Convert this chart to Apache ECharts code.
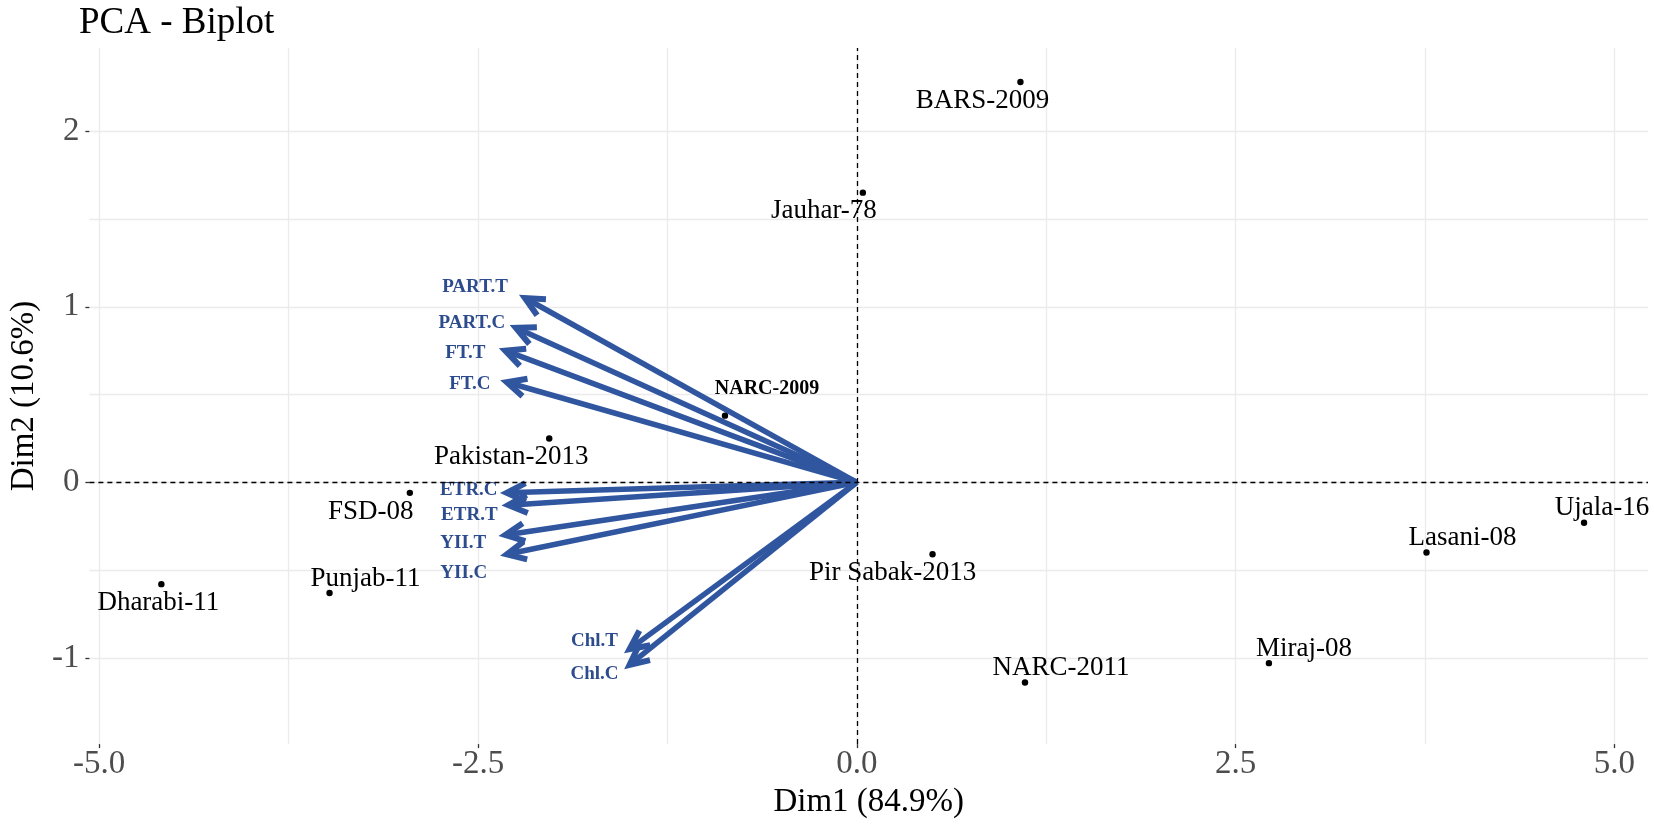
<!DOCTYPE html>
<html>
<head>
<meta charset="utf-8">
<title>PCA - Biplot</title>
<script src="https://cdn.jsdelivr.net/npm/echarts@6/dist/echarts.min.js"></script>
<style>
    html, body { margin: 0; padding: 0; background: #fff; }
    #chart_show { width: 1654px; height: 824px; }
</style>
</head>
<body>
<div id="chart_show"></div>
<script>
// individuals (genotypes)
var indNames = ['Dharabi-11', 'Punjab-11', 'FSD-08', 'Pakistan-2013', 'NARC-2009', 'Jauhar-78',
    'BARS-2009', 'Pir Sabak-2013', 'NARC-2011', 'Miraj-08', 'Lasani-08', 'Ujala-16'];
var indDim1 = [-4.59, -3.48, -2.95, -2.03, -0.87, 0.04, 1.08, 0.50, 1.11, 2.72, 3.76, 4.80];
var indDim2 = [-0.58, -0.63, -0.06, 0.25, 0.38, 1.65, 2.28, -0.41, -1.14, -1.03, -0.40, -0.23];

// variables (arrows)
var varNames = ['PART.T', 'PART.C', 'FT.T', 'FT.C', 'ETR.C', 'ETR.T', 'YII.T', 'YII.C', 'Chl.T', 'Chl.C'];
var varDim1 = [-2.19, -2.25, -2.32, -2.31, -2.31, -2.30, -2.32, -2.31, -1.50, -1.50];
var varDim2 = [1.05, 0.88, 0.75, 0.57, -0.06, -0.13, -0.30, -0.41, -0.95, -1.04];

// axis ticks
var xTicks = [-5, -2.5, 0, 2.5, 5];
var xTickLabels = ['-5.0', '-2.5', '0.0', '2.5', '5.0'];
var xGrid = [-5, -3.75, -2.5, -1.25, 0, 1.25, 2.5, 3.75, 5];
var yTicks = [-1, 0, 1, 2];
var yTickLabels = ['-1', '0', '1', '2'];
var yGrid = [-1, -0.5, 0, 0.5, 1, 1.5, 2];

// label nudges in px (style only)
var indLabelOffsets = [[-3, 19], [36, -14], [-39, 19], [-38, 18], [42, -27], [-39, 18],
    [-38, 19], [-40, 19], [36, -15], [35, -14], [36, -15], [18, -15]];
var varLabelOffsets = [[-50, -11], [-44, -5], [-40, 2], [-37, 2], [-38, -3], [-39, 10],
    [-42, 8], [-43, 19], [-35, -8], [-35, 9]];

var SERIF = '"Liberation Serif", "Times New Roman", serif';
var ARROW_COLOR = '#3056a0';
var VAR_TEXT = '#2d4c8e';

var myChart = echarts.init(document.getElementById('chart_show'));

function tickLabel(ticks, labels) {
    return function (v) {
        for (var i = 0; i < ticks.length; i++) {
            if (Math.abs(ticks[i] - v) < 1e-6) return labels[i];
        }
        return '';
    };
}

var indData = indNames.map(function (n, i) {
    return [indDim1[i], indDim2[i], i];
});

var varData = varNames.map(function (n, i) {
    return [varDim1[i], varDim2[i], i];
});

// arrow from origin to the variable's loading, with open head and label
function renderArrow(params, api) {
    var i = api.value(2);
    var o = api.coord([0, 0]);
    var t = api.coord([api.value(0), api.value(1)]);
    var ang = Math.atan2(t[1] - o[1], t[0] - o[0]);
    var len = 21, spread = 0.45;
    var h1 = [t[0] - len * Math.cos(ang - spread), t[1] - len * Math.sin(ang - spread)];
    var h2 = [t[0] - len * Math.cos(ang + spread), t[1] - len * Math.sin(ang + spread)];
    var off = varLabelOffsets[i];
    return {
        type: 'group',
        children: [
            {
                type: 'line',
                shape: { x1: o[0], y1: o[1], x2: t[0], y2: t[1] },
                style: { stroke: ARROW_COLOR, lineWidth: 5.5 }
            },
            {
                type: 'polyline',
                shape: { points: [h1, t, h2] },
                style: { stroke: ARROW_COLOR, lineWidth: 6, fill: null, lineJoin: 'miter' }
            },
            {
                type: 'text',
                x: t[0] + off[0],
                y: t[1] + off[1],
                style: {
                    text: varNames[i],
                    fill: VAR_TEXT,
                    font: 'bold 19px ' + SERIF,
                    align: 'center',
                    verticalAlign: 'middle'
                }
            }
        ]
    };
}

function renderInd(params, api) {
    var i = api.value(2);
    var p = api.coord([api.value(0), api.value(1)]);
    var off = indLabelOffsets[i];
    var bold = indNames[i] === 'NARC-2009';
    return {
        type: 'group',
        children: [
            {
                type: 'circle',
                shape: { cx: p[0], cy: p[1], r: 3.2 },
                style: { fill: '#000' }
            },
            {
                type: 'text',
                x: p[0] + off[0],
                y: p[1] + off[1],
                style: {
                    text: indNames[i],
                    fill: '#000',
                    font: (bold ? 'bold 20px ' : '27px ') + SERIF,
                    align: 'center',
                    verticalAlign: 'middle'
                }
            }
        ]
    };
}

var X_MIN = -5.065, X_MAX = 5.222, Y_MIN = -1.491, Y_MAX = 2.474;

myChart.setOption({
    animation: false,
    backgroundColor: '#fff',
    title: {
        text: 'PCA - Biplot',
        left: 74,
        top: 0,
        textStyle: { fontFamily: SERIF, fontSize: 37, fontWeight: 'normal', color: '#000' }
    },
    grid: { left: 76, right: 6, top: 48, bottom: 78 },
    xAxis: [
        {
            type: 'value', min: X_MIN, max: X_MAX,
            axisLine: { show: false, onZero: false },
            axisTick: { show: false, customValues: xGrid },
            axisLabel: { show: false, customValues: xGrid },
            splitLine: { show: true, lineStyle: { color: '#ebebeb', width: 1.3 } }
        },
        {
            type: 'value', min: X_MIN, max: X_MAX, position: 'bottom',
            axisLine: { show: false, onZero: false },
            axisTick: { show: true, length: 4, customValues: xTicks, lineStyle: { color: '#333', width: 1.3 } },
            axisLabel: {
                customValues: xTicks, margin: 4,
                formatter: tickLabel(xTicks, xTickLabels),
                fontFamily: SERIF, fontSize: 33, color: '#4d4d4d'
            },
            splitLine: { show: false },
            name: 'Dim1 (84.9%)', nameLocation: 'middle', nameGap: 38,
            nameTextStyle: { fontFamily: SERIF, fontSize: 33, color: '#000' }
        }
    ],
    yAxis: [
        {
            type: 'value', min: Y_MIN, max: Y_MAX,
            axisLine: { show: false, onZero: false },
            axisTick: { show: false, customValues: yGrid },
            axisLabel: { show: false, customValues: yGrid },
            splitLine: { show: true, lineStyle: { color: '#ebebeb', width: 1.3 } }
        },
        {
            type: 'value', min: Y_MIN, max: Y_MAX, position: 'left',
            axisLine: { show: false, onZero: false },
            axisTick: { show: true, length: 4, customValues: yTicks, lineStyle: { color: '#333', width: 1.3 } },
            axisLabel: {
                customValues: yTicks, margin: 10,
                formatter: tickLabel(yTicks, yTickLabels),
                fontFamily: SERIF, fontSize: 33, color: '#4d4d4d'
            },
            splitLine: { show: false },
            name: 'Dim2 (10.6%)', nameLocation: 'middle', nameGap: 38,
            nameTextStyle: { fontFamily: SERIF, fontSize: 33, color: '#000' }
        }
    ],
    series: [
        {
            type: 'scatter',
            name: 'zero',
            data: [],
            z: 1,
            markLine: {
                silent: true,
                symbol: 'none',
                label: { show: false },
                lineStyle: { type: [5, 4], color: '#000', width: 1.3 },
                data: [{ xAxis: 0 }, { yAxis: 0 }]
            }
        },
        {
            type: 'custom',
            name: 'variables',
            renderItem: renderArrow,
            data: varData,
            z: 3
        },
        {
            type: 'custom',
            name: 'individuals',
            renderItem: renderInd,
            data: indData,
            z: 4
        }
    ]
});
</script>
</body>
</html>
